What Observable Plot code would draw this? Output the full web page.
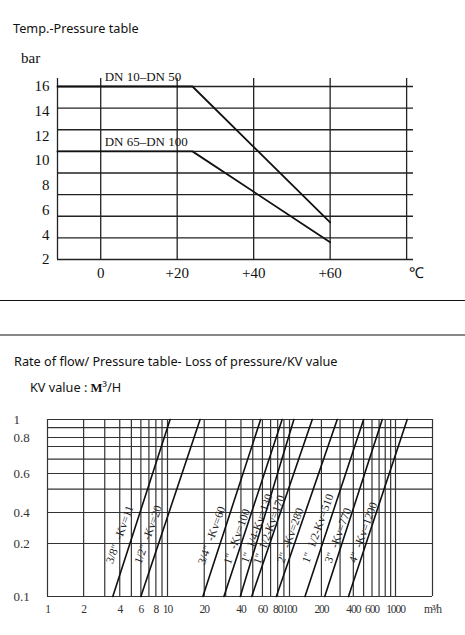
<!DOCTYPE html>
<html>
<head>
<meta charset="utf-8">
<script src="https://cdn.jsdelivr.net/npm/d3@7"></script>
<script src="https://cdn.jsdelivr.net/npm/@observablehq/plot@0.6"></script>
<style>
  body { margin: 0; background: #fff; }
  #page { position: relative; width: 465px; height: 635px; overflow: hidden; }
  .abs { position: absolute; white-space: nowrap; }
  .sans { font-family: "Noto Sans", sans-serif; font-size: 12.7px; line-height: 13px; color: #111; }
  .serif { font-family: "Liberation Serif", serif; color: #111; }
  .sep { position: absolute; left: 0; width: 465px; }
  #graphique2 svg > g:nth-last-of-type(2) text { letter-spacing: -1.1px; }
</style>
</head>
<body>
<div id="page">
  <div id="graphique1" class="abs" style="left:0; top:0;"></div>
  <div id="graphique2" class="abs" style="left:0; top:400px;"></div>
  <div class="abs sans" style="left:13px; top:22px;">Temp.-Pressure table</div>
  <div class="abs serif" style="left:21px; top:51px; font-size:15px; line-height:15px;">bar</div>
  <div class="sep" style="top:300px; height:1px; background:#111;"></div>
  <div class="sep" style="top:334px; height:2px; background:#888;"></div>
  <div class="abs sans" style="left:14px; top:355px;">Rate of flow/ Pressure table- Loss of pressure/KV value</div>
  <div class="abs sans" style="left:30px; top:381px;">KV value : <span style="font-family:'Liberation Serif',serif; font-weight:bold;">M</span>³/H</div>
</div>
<script>
// --- Temp / pressure ---
const temps = [-11.3, 24, 60];
const barDn10to50 = [16, 16, 5];
const barDn65to100 = [10.75, 10.75, 3.4];
const seriesNames = ["DN 10–DN 50", "DN 65–DN 100"];
const tempTicks = [0, 20, 40, 60];
const tempTickLabels = ["0", "+20", "+40", "+60"];
const tempGrid = [-11.3, 0, 20, 40, 60, 80];
const barTicks = [2, 4, 6, 8, 10, 12, 14, 16];
const barGrid = [2, 3.75, 5.5, 7.25, 9, 10.75, 12.5, 14.25, 16];

// --- Flow / loss of pressure ---
const kvLabels = ['3/8"  -Kv=11', '1/2"  -Kv=20', '3/4"  -Kv=60', '1"  -Kv=100', '1"  1/4-Kv=130',
  '1"  1/2-Kv=170', '2"  -Kv=280', '1"  1/2-Kv=510', '3"  -Kv=770', '4"  -Kv=1200'];
const lossEnds = [0.1, 1];
const flowAtLow = [3.5, 6, 19.5, 29, 39.5, 49, 78, 140, 215, 360];
const flowAtHigh = [10.5, 18.5, 58, 87, 110, 164, 282, 500, 750, 1245];
const labelFlow = [4, 6.9, 23, 37, 54, 68, 102, 185, 287, 495];
const labelLoss = [0.258, 0.258, 0.252, 0.245, 0.297, 0.29, 0.252, 0.297, 0.252, 0.271];
const flowTicks = [1, 2, 4, 6, 8, 10, 20, 40, 60, 80, 100, 200, 400, 600, 1000, 2000];
const flowTickLabels = ["1", "2", "4", "6", "8", "10", "20", "40", "60", "80", "100", "200", "400", "600", "1000", "m³/h"];
const flowGrid = [1, 2, 3, 4, 5, 6, 7, 8, 9, 10, 20, 30, 40, 50, 60, 70, 80, 90, 100,
  200, 300, 400, 500, 600, 700, 800, 900, 1000, 2000];
const lossTicks = [0.1, 0.2, 0.4, 0.6, 0.8, 1];
const lossTickLabels = ["0.1", "0.2", "0.4", "0.6", "0.8", "1"];
const lossGrid = [0.1, 0.2, 0.4, 0.52, 0.6, 0.68, 0.75, 0.8, 0.91, 1];

const pressureRows = [barDn10to50, barDn65to100].flatMap((values, i) =>
  values.map((bar, j) => ({serie: seriesNames[i], temp: temps[j], bar})));
const plateaus = [barDn10to50[0], barDn65to100[0]];

const graph1 = Plot.plot({
  width: 465,
  height: 300,
  marginLeft: 57,
  marginRight: 52,
  marginTop: 78,
  marginBottom: 41,
  style: {background: "transparent", fontFamily: "'Liberation Serif', serif", fontSize: "15px", color: "#111"},
  x: {domain: [-11.3, 81.8], label: null},
  y: {type: "linear", domain: [2, 16], range: [259, 86], label: null},
  marks: [
    Plot.ruleY(barGrid, {stroke: "#222", strokeWidth: 1.3}),
    Plot.ruleX(tempGrid, {stroke: "#222", strokeWidth: 1.3}),
    Plot.line(pressureRows, {x: "temp", y: "bar", z: "serie", stroke: "#111", strokeWidth: 1.8}),
    Plot.text(seriesNames, {x: 0, y: (d, i) => plateaus[i], text: d => d, textAnchor: "start", dx: 4, dy: -10, fontSize: 13}),
    Plot.axisX({ticks: tempTicks, tickFormat: d => tempTickLabels[tempTicks.indexOf(d)], tickSize: 0, tickPadding: 8, label: null}),
    Plot.axisY({ticks: barTicks, tickSize: 0, tickPadding: 8, label: null}),
    Plot.text(["℃"], {frameAnchor: "bottom-right", text: d => d, dx: 10, dy: 8, lineAnchor: "top"})
  ]
});
document.getElementById("graphique1").appendChild(graph1);

const flowRows = kvLabels.flatMap((label, i) => [
  {serie: label, loss: lossEnds[0], flow: flowAtLow[i]},
  {serie: label, loss: lossEnds[1], flow: flowAtHigh[i]}
]);

const graph2 = Plot.plot({
  width: 465,
  height: 235,
  marginLeft: 47,
  marginRight: 33,
  marginTop: 19,
  marginBottom: 39,
  style: {background: "transparent", fontFamily: "'Liberation Serif', serif", fontSize: "13px", color: "#333"},
  x: {type: "log", domain: [1, 10, 100, 1000, 2000], range: [47, 167, 289, 395, 432], axis: null},
  y: {type: "linear", domain: [0.1, 0.2, 0.4, 0.6, 0.8, 1], range: [196, 143, 112, 73, 37, 19], axis: null},
  marks: [
    Plot.ruleY(lossGrid, {stroke: "#333", strokeWidth: 1.2}),
    Plot.ruleX(flowGrid, {stroke: "#333", strokeWidth: 1.2}),
    Plot.line(flowRows, {x: "flow", y: "loss", z: "serie", stroke: "#111", strokeWidth: 1.6}),
    Plot.text(kvLabels, {x: (d, i) => labelFlow[i], y: (d, i) => labelLoss[i], text: d => d,
      rotate: -70, fontSize: 11.5, fill: "#222"}),
    // tick labels as text marks (log axes filter custom formats)
    Plot.text(flowTicks, {x: d => d, text: (d, i) => flowTickLabels[i], frameAnchor: "bottom", lineAnchor: "top",
      dy: 8, fontSize: 11.5}),
    Plot.text(lossTicks, {y: d => d, text: (d, i) => lossTickLabels[i], frameAnchor: "left", textAnchor: "start", dx: -34})
  ]
});
document.getElementById("graphique2").appendChild(graph2);
</script>
</body>
</html>
